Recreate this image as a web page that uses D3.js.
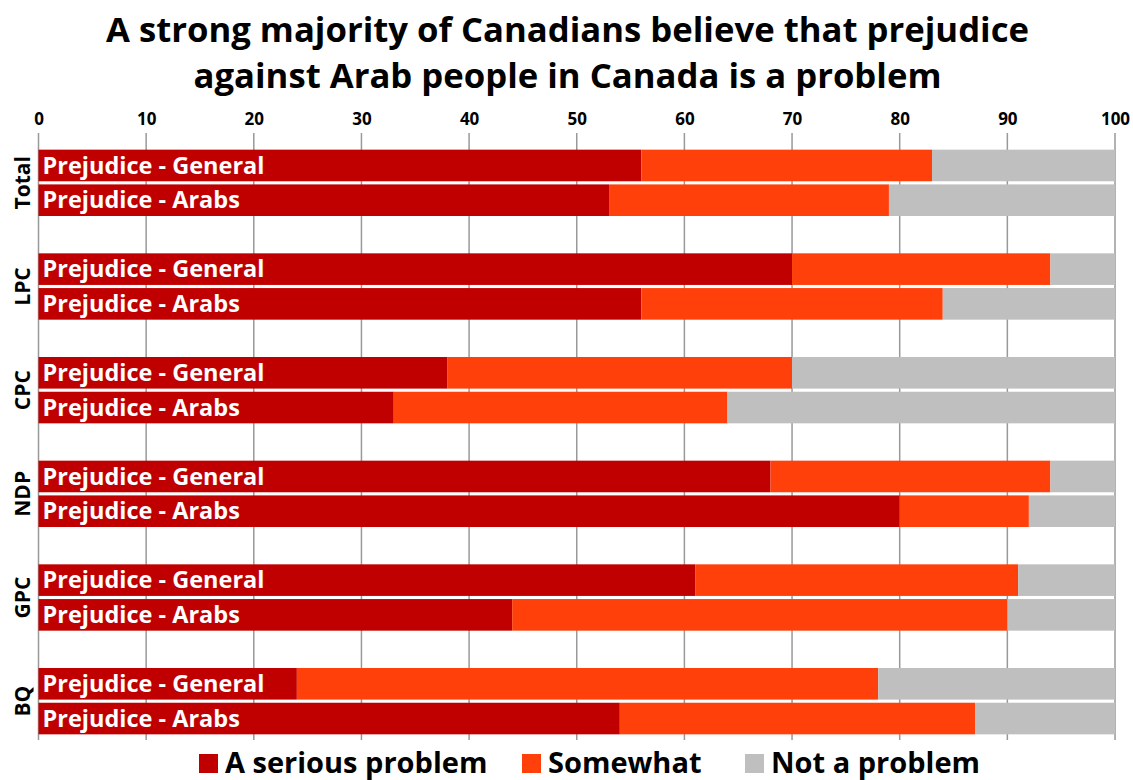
<!DOCTYPE html>
<html>
<head>
<meta charset="utf-8">
<script src="https://cdn.jsdelivr.net/npm/d3@7"></script>
<style>
  body { margin: 0; background: #fff; }
  svg { display: block; font-family: "Open Sans", Lato, sans-serif; }
</style>
</head>
<body>
<svg id="chart" width="1133" height="780"></svg>
<script>
const GROUPS = ['Total', 'LPC', 'CPC', 'NDP', 'GPC', 'BQ'];
const ROWS = ['Prejudice - General', 'Prejudice - Arabs'];
const SERIES = ['A serious problem', 'Somewhat', 'Not a problem'];
const TICKS = [0, 10, 20, 30, 40, 50, 60, 70, 80, 90, 100];

// percent, per group, [General, Arabs]
const SERIOUS = [[56, 53], [70, 56], [38, 33], [68, 80], [61, 44], [24, 54]];
const SOMEWHAT = [[27, 26], [24, 28], [32, 31], [26, 12], [30, 46], [54, 33]];
const NOT_PROBLEM = [[17, 21], [6, 16], [30, 36], [6, 8], [9, 10], [22, 13]];

const COLORS = ['#C00000', '#FF400A', '#BFBFBF'];

const svg = d3.select('#chart');
const W = 1133;

const x = d3.scaleLinear().domain([0, 100]).range([38.5, 1115]);
const y = d3.scaleBand().domain(GROUPS).range([131, 753]).paddingInner(0.36).paddingOuter(0.18);
const yRow = d3.scaleBand().domain(ROWS).range([0, y.bandwidth()]).paddingInner(0.09);

// title
svg.append('text')
  .attr('x', W / 2 + 1).attr('y', 42)
  .attr('text-anchor', 'middle')
  .attr('font-size', 34.7).attr('font-weight', 700)
  .selectAll('tspan')
  .data(['A strong majority of Canadians believe that prejudice', 'against Arab people in Canada is a problem'])
  .join('tspan')
  .attr('x', W / 2 + 1)
  .attr('dy', (d, i) => i ? 46 : 0)
  .text(d => d);

// gridlines
svg.append('g')
  .selectAll('line')
  .data(TICKS)
  .join('line')
  .attr('x1', d => x(d)).attr('x2', d => x(d))
  .attr('y1', 133).attr('y2', 740)
  .attr('stroke', '#999').attr('stroke-width', 1.5);

// top axis labels
const xAxis = d3.axisTop(x).tickValues(TICKS).tickSize(0).tickPadding(0);
const axisG = svg.append('g').attr('transform', 'translate(0,125)').call(xAxis);
axisG.select('.domain').remove();
axisG.selectAll('text')
  .attr('font-size', 17).attr('font-weight', 700).attr('fill', '#000')
  .attr('font-family', '"Open Sans", sans-serif');

// stacked rows
const rows = [];
GROUPS.forEach((g, gi) => {
  ROWS.forEach((r, ri) => {
    const vals = [SERIOUS[gi][ri], SOMEWHAT[gi][ri], NOT_PROBLEM[gi][ri]];
    let acc = 0;
    vals.forEach((v, si) => {
      rows.push({group: g, row: r, series: si, x0: acc, x1: acc + v});
      acc += v;
    });
  });
});

svg.append('g')
  .selectAll('rect')
  .data(rows)
  .join('rect')
  .attr('x', d => x(d.x0))
  .attr('width', d => x(d.x1) - x(d.x0))
  .attr('y', d => y(d.group) + yRow(d.row))
  .attr('height', yRow.bandwidth())
  .attr('fill', d => COLORS[d.series]);

// row labels inside bars
const labels = [];
GROUPS.forEach(g => ROWS.forEach(r => labels.push({group: g, row: r})));
svg.append('g')
  .selectAll('text')
  .data(labels)
  .join('text')
  .attr('x', x(0) + 4)
  .attr('y', d => y(d.group) + yRow(d.row) + yRow.bandwidth() / 2)
  .attr('dy', '0.35em')
  .attr('fill', '#fff').attr('font-size', 23.5).attr('font-weight', 700)
  .text(d => d.row);

// group labels
svg.append('g')
  .selectAll('text')
  .data(GROUPS)
  .join('text')
  .attr('transform', d => `translate(30,${y(d) + y.bandwidth() / 2}) rotate(-90)`)
  .attr('text-anchor', 'middle')
  .attr('font-size', 21).attr('font-weight', 700)
  .text(d => d);

// legend
const legendX = [199, 522, 745];
const leg = svg.append('g')
  .selectAll('g')
  .data(SERIES)
  .join('g')
  .attr('transform', (d, i) => `translate(${legendX[i]},763)`);
leg.append('rect')
  .attr('x', 0).attr('y', -9).attr('width', 19).attr('height', 19)
  .attr('fill', (d, i) => COLORS[i]);
leg.append('text')
  .attr('x', 26).attr('dy', '0.35em')
  .attr('font-size', 29).attr('font-weight', 700)
  .text(d => d);
</script>
</body>
</html>
